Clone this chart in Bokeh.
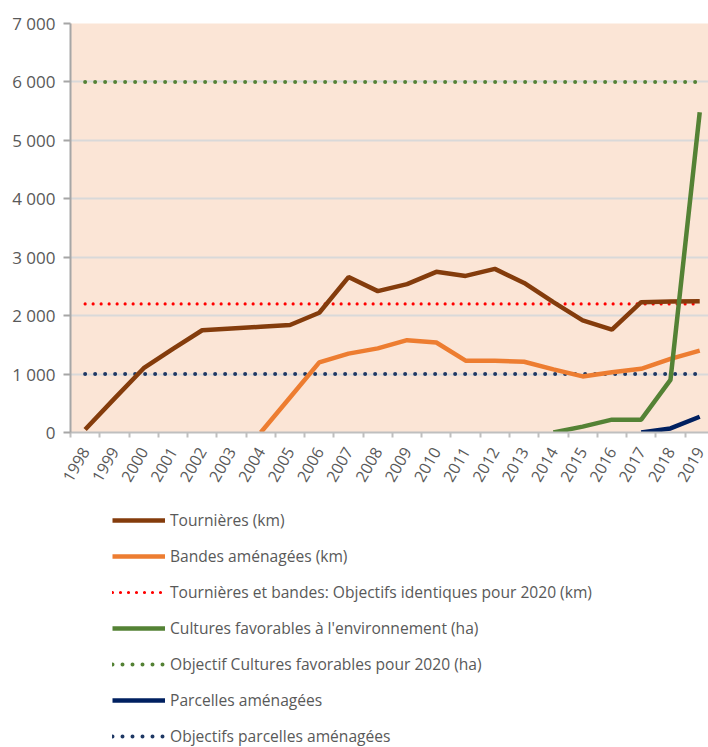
import math

from bokeh.embed import file_html
from bokeh.layouts import column
from bokeh.models import (ColumnDataSource, FixedTicker, Legend, LegendItem,
                          Range1d)
from bokeh.plotting import figure
from bokeh.resources import INLINE

# Annual series (km / ha); None = not yet started
years = list(range(1998, 2020))
year_labels = [str(y) for y in years]
tournieres = [50, 580, 1100, 1430, 1750, 1780, 1810, 1840, 2050, 2660, 2420,
              2540, 2750, 2680, 2800, 2560, 2230, 1920, 1760, 2230, 2240, 2245]
bandes = [None] * 6 + [0, 600, 1200, 1350, 1440, 1580, 1540, 1230, 1230,
                       1210, 1080, 960, 1030, 1090, 1260, 1400]
cultures = [None] * 16 + [0, 100, 220, 220, 900, 5480]
parcelles = [None] * 19 + [0, 70, 270]

# 2020 targets
objectif_tournieres_bandes = 2200
objectif_cultures = 6000
objectif_parcelles = 1000

y_ticks = [0, 1000, 2000, 3000, 4000, 5000, 6000, 7000]
y_tick_labels = ["0", "1 000", "2 000", "3 000", "4 000", "5 000", "6 000", "7 000"]

labels = [
    "Tournières (km)",
    "Bandes aménagées (km)",
    "Tournières et bandes: Objectifs identiques pour 2020 (km)",
    "Cultures favorables à l'environnement (ha)",
    "Objectif Cultures favorables pour 2020 (ha)",
    "Parcelles aménagées",
    "Objectifs parcelles aménagées",
]

FONT = "Open Sans"
GREY = "#595959"

# line styles, shared by the chart and the legend
STYLES = [
    dict(line_color="#843C0C", line_width=4.5),
    dict(line_color="#ED7D31", line_width=4.5),
    dict(line_color="#FF0000", line_width=3.2, line_dash="0 8", line_cap="round"),
    dict(line_color="#548235", line_width=4.5),
    dict(line_color="#548235", line_width=4, line_dash="0 10", line_cap="round"),
    dict(line_color="#002060", line_width=4.5),
    dict(line_color="#1F3864", line_width=4, line_dash="0 10", line_cap="round"),
]
COLUMNS = ["tournieres", "bandes", "obj_tb", "cultures", "obj_cu", "parcelles", "obj_pa"]


def nan(vals):
    return [float("nan") if v is None else v for v in vals]


src = ColumnDataSource(dict(
    x=years,
    tournieres=tournieres,
    bandes=nan(bandes),
    cultures=nan(cultures),
    parcelles=nan(parcelles),
    obj_tb=[objectif_tournieres_bandes] * len(years),
    obj_cu=[objectif_cultures] * len(years),
    obj_pa=[objectif_parcelles] * len(years),
))

p = figure(
    width=708, height=500,
    x_range=Range1d(1997.5, 2019.3), y_range=Range1d(0, 7000),
    output_backend="svg", toolbar_location=None, tools="",
    min_border_left=70, min_border_right=0, min_border_top=23,
    min_border_bottom=68,
)
p.background_fill_color = "#FBE5D6"
p.border_fill_color = "white"
p.outline_line_color = None

# target lines first, under the series
for i in (2, 4, 6, 0, 1, 3, 5):
    p.line("x", COLUMNS[i], source=src, **STYLES[i])

# y axis
p.yaxis.ticker = FixedTicker(ticks=y_ticks)
p.yaxis.major_label_overrides = dict(zip(y_ticks, y_tick_labels))
p.yaxis.axis_line_color = "#A6A6A6"
p.yaxis.axis_line_width = 2
p.yaxis.major_tick_line_color = "#A6A6A6"
p.yaxis.major_tick_line_width = 2
p.yaxis.major_tick_out = 7
p.yaxis.major_tick_in = 0
p.yaxis.minor_tick_line_color = None
p.yaxis.major_label_standoff = 8
p.yaxis.major_label_text_font = FONT
p.yaxis.major_label_text_font_size = "17px"
p.yaxis.major_label_text_color = GREY

# x axis: labels at the year centres, tick marks on the boundaries
p.xaxis.ticker = FixedTicker(ticks=years, minor_ticks=[y - 0.5 for y in years] + [years[-1] + 0.5])
p.xaxis.major_label_overrides = dict(zip(years, year_labels))
p.xaxis.major_label_orientation = math.radians(60)
p.xaxis.axis_line_color = "#BFBFBF"
p.xaxis.axis_line_width = 2
p.xaxis.major_tick_line_color = None
p.xaxis.minor_tick_line_color = "#BFBFBF"
p.xaxis.minor_tick_line_width = 2
p.xaxis.minor_tick_out = 5
p.xaxis.minor_tick_in = 0
p.xaxis.major_label_standoff = 10
p.xaxis.major_label_text_font = FONT
p.xaxis.major_label_text_font_size = "16px"
p.xaxis.major_label_text_color = GREY

p.xgrid.grid_line_color = None
p.ygrid.ticker = FixedTicker(ticks=y_ticks)
p.ygrid.grid_line_color = "#D9D9D9"
p.ygrid.grid_line_width = 2

# legend panel underneath the chart; its lines use the same data but the
# panel's ranges keep them out of view, so only the legend swatches show
lg = figure(
    width=708, height=247, output_backend="svg", toolbar_location=None, tools="",
    x_range=Range1d(0, 1), y_range=Range1d(-2, -1),
    x_axis_location=None, y_axis_location=None, min_border=0,
)
lg.grid.visible = False
lg.outline_line_color = None
swatches = [lg.line("x", c, source=src, **s) for c, s in zip(COLUMNS, STYLES)]
legend = Legend(
    items=[LegendItem(label=l, renderers=[r]) for l, r in zip(labels, swatches)],
    location=(42, 0),
    orientation="vertical",
    padding=0, margin=0, spacing=14,
    glyph_width=53, glyph_height=22, label_height=22,
    label_standoff=5,
    label_text_font=FONT, label_text_font_size="15.6px", label_text_color=GREY,
    background_fill_alpha=0, border_line_color=None,
)
lg.add_layout(legend, "center")

layout = column(p, lg, spacing=0)
open("out.html", "w").write(file_html(layout, INLINE))
